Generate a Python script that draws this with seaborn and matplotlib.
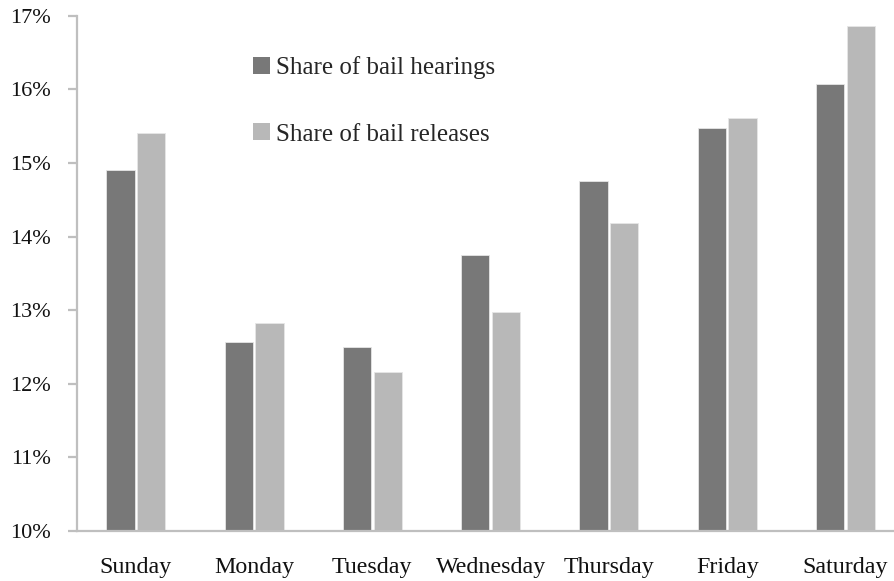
import matplotlib
matplotlib.use("Agg")
import matplotlib.pyplot as plt
import seaborn as sns
import pandas as pd
from matplotlib.patches import Patch

days = ["Sunday", "Monday", "Tuesday", "Wednesday", "Thursday", "Friday", "Saturday"]
hearings = [14.90, 12.56, 12.50, 13.75, 14.75, 15.48, 16.07]
releases = [15.41, 12.82, 12.16, 12.98, 14.19, 15.61, 16.86]
series = ["Share of bail hearings", "Share of bail releases"]
colors = ["#787878", "#b8b8b8"]
yticks = [10, 11, 12, 13, 14, 15, 16, 17]

df = pd.DataFrame({
    "day": days * 2,
    "value": hearings + releases,
    "series": [series[0]] * len(days) + [series[1]] * len(days),
})

sns.set_style("white")
plt.rcParams["font.family"] = ["Liberation Serif", "DejaVu Serif"]

fig = plt.figure(figsize=(8.94, 5.81), dpi=100)
ax = fig.add_axes([0.0858, 0.0866, 0.926, 0.886])

sns.barplot(data=df, x="day", y="value", hue="series", palette=colors,
            order=days, hue_order=series, width=0.52, gap=0.08,
            edgecolor="#e6e6e6", linewidth=0.6, legend=False, ax=ax)

ax.set_xlim(-0.5, 6.5)
ax.set_ylim(10, 17)
ax.set_yticks(yticks)
ax.set_yticklabels([f"{v}%" for v in yticks])
ax.set_xlabel("")
ax.set_ylabel("")

for s in ["top", "right"]:
    ax.spines[s].set_visible(False)
for s in ["left", "bottom"]:
    ax.spines[s].set_color("#bfbfbf")
    ax.spines[s].set_linewidth(1.6)

ax.tick_params(axis="y", which="both", left=True, length=6.5, width=1.6,
               color="#bfbfbf", pad=12, labelsize=16, labelcolor="#111111")
ax.tick_params(axis="x", length=0, pad=19, labelsize=17.3, labelcolor="#111111")

handles = [Patch(facecolor=c, edgecolor="none") for c in colors]
fig.legend(handles, series, loc="upper left",
           bbox_to_anchor=(253 / 894, 1 - 56 / 581), bbox_transform=fig.transFigure,
           frameon=False, fontsize=18, handlelength=0.66, handleheight=0.66,
           handletextpad=0.25, labelspacing=1.78, borderpad=0, borderaxespad=0)

fig.savefig("out.png", dpi=100)
